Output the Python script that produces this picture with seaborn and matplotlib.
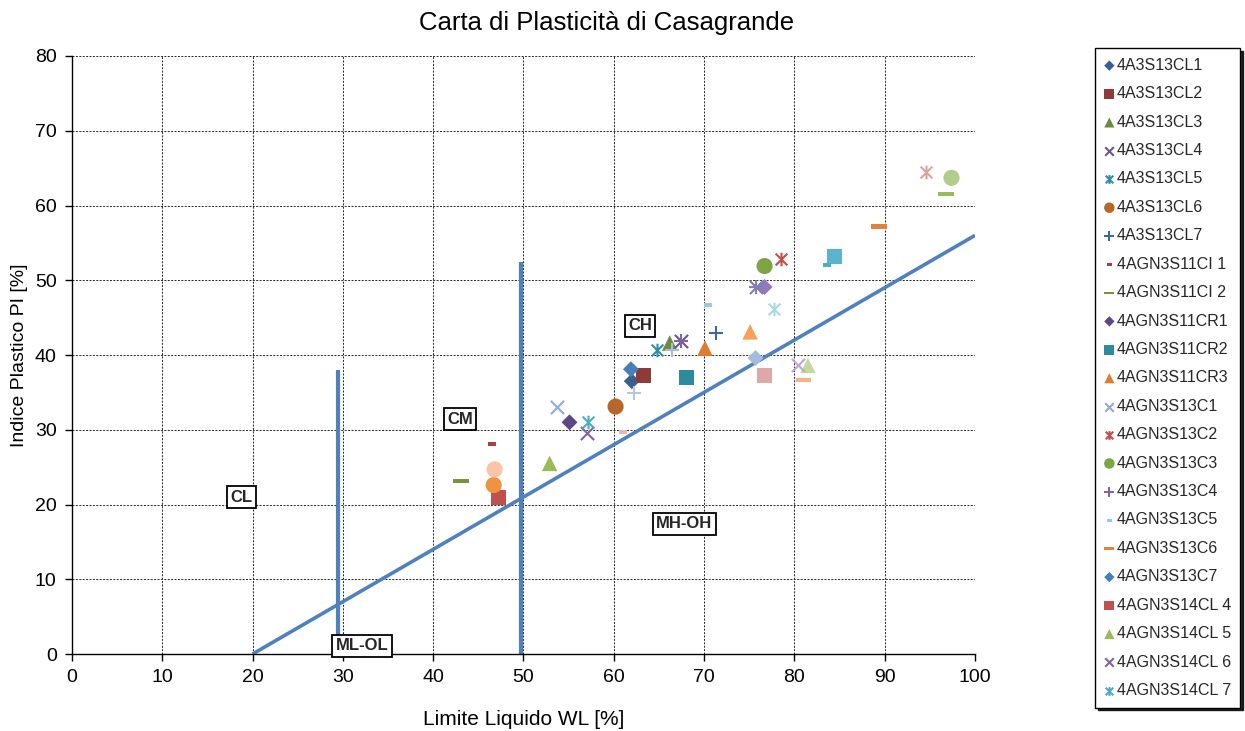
import matplotlib
matplotlib.use("Agg")
import matplotlib.pyplot as plt
import seaborn as sns
from matplotlib.path import Path

sns.set_theme(style="white")
plt.rcParams['font.family'] = ['Liberation Sans', 'DejaVu Sans']

# Samples shown in the legend (first 23 series)
legend_names = [
    "4A3S13CL1", "4A3S13CL2", "4A3S13CL3", "4A3S13CL4", "4A3S13CL5",
    "4A3S13CL6", "4A3S13CL7", "4AGN3S11CI 1", "4AGN3S11CI 2",
    "4AGN3S11CR1", "4AGN3S11CR2", "4AGN3S11CR3", "4AGN3S13C1",
    "4AGN3S13C2", "4AGN3S13C3", "4AGN3S13C4", "4AGN3S13C5",
    "4AGN3S13C6", "4AGN3S13C7", "4AGN3S14CL 4", "4AGN3S14CL 5",
    "4AGN3S14CL 6", "4AGN3S14CL 7",
]

# Liquid limit WL [%] and plasticity index PI [%], one sample per series
wl_values = [
    62.0, 63.3, 66.2, 67.4, 64.8, 60.2, 71.3, 46.5, 43.1, 55.1,
    68.1, 70.1, 53.7, 78.5, 76.7, 67.4, 70.4, 89.4, 61.9, 47.2,
    52.9, 57.0, 57.1, 46.7, 62.2, 61.0, 96.8, 76.7, 84.4, 75.1,
    75.8, 94.6, 97.4, 75.8, 83.6, 81.0, 75.7, 76.7, 81.5, 80.4,
    77.8, 46.8, 66.4,
]
pi_values = [
    36.5, 37.3, 41.6, 41.9, 40.7, 33.1, 42.9, 28.1, 23.1, 31.0,
    37.0, 40.9, 33.1, 52.8, 51.9, 41.9, 46.7, 57.2, 38.1, 21.0,
    25.5, 29.6, 31.1, 22.6, 34.9, 29.7, 61.5, 49.1, 53.2, 43.1,
    49.1, 64.5, 63.7, 49.1, 52.0, 36.7, 39.6, 37.2, 38.6, 38.7,
    46.2, 24.7, 40.7,
]
series_colors = [
    "#3A5F8E", "#8E3A38", "#6E8B3D", "#6A5590", "#2E8EA3", "#B8672A",
    "#3C6A9A", "#A8403E", "#77933C", "#5D4784", "#2F8A9F", "#E07B30",
    "#8FAAD6", "#C0504D", "#7DA445", "#7F64A2", "#93CDDD", "#E0823A",
    "#4A7EBB", "#C0504D", "#9BBB59", "#8064A2", "#4BACC6", "#F0923F",
    "#B4C7E4", "#E6B9B8", "#9BBB59", "#9279B8", "#5BB3CF", "#F8A058",
    "#7383B8", "#E0A0A0", "#B2CC8A", "#8A7AB8", "#4BACC6", "#FAB08A",
    "#A3BCDC", "#DDA8A8", "#C4D8A0", "#BBA9D0", "#A8D8E6", "#FAC4A8",
    "#A6BDE0",
]

# Casagrande A-line and the WL = 30 / WL = 50 boundaries
a_line_wl = [20, 100]
a_line_pi = [0, 56]
low_limit_wl = [29.5, 29.5]
low_limit_pi = [0, 38]
high_limit_wl = [49.7, 49.7]
high_limit_pi = [0, 52.5]

# Zone labels
zone_labels = ["CH", "CM", "CL", "MH-OH", "ML-OL"]
zone_wl = [62.9, 43.0, 18.8, 67.8, 32.1]
zone_pi = [43.9, 31.4, 21.0, 17.4, 1.1]

# Marker shapes cycling over the series
asterisk = Path([(-1, -1), (1, 1), (-1, 1), (1, -1), (0, -1.15), (0, 1.15)],
                [Path.MOVETO, Path.LINETO] * 3)
short_dash = Path([(-1, -0.5), (1, -0.5), (1, 0.5), (-1, 0.5), (-1, -0.5)],
                  [Path.MOVETO, Path.LINETO, Path.LINETO, Path.LINETO, Path.CLOSEPOLY])
long_dash = Path([(-1, -0.27), (1, -0.27), (1, 0.27), (-1, 0.27), (-1, -0.27)],
                 [Path.MOVETO, Path.LINETO, Path.LINETO, Path.LINETO, Path.CLOSEPOLY])
marker_cycle = [
    dict(marker="D", s=66, kind="fill"),
    dict(marker="s", s=117, kind="fill"),
    dict(marker="^", s=125, kind="fill"),
    dict(marker="x", s=90, kind="line"),
    dict(marker=asterisk, s=95, kind="path"),
    dict(marker="o", s=135, kind="fill"),
    dict(marker="+", s=100, kind="line"),
    dict(marker=short_dash, s=36, kind="fill"),
    dict(marker=long_dash, s=125, kind="fill"),
]

fig = plt.figure(figsize=(12.45, 7.31), dpi=100)
ax = fig.add_axes([0.0578, 0.1053, 0.7253, 0.8181])

line_color = "#4F81BD"
ax.plot(a_line_wl, a_line_pi, color=line_color, lw=2.6, zorder=2, solid_capstyle="butt")
ax.plot(low_limit_wl, low_limit_pi, color=line_color, lw=3.0, zorder=2, solid_capstyle="butt")
ax.plot(high_limit_wl, high_limit_pi, color=line_color, lw=3.0, zorder=2, solid_capstyle="butt")

handles = []
for i, (wl, pi, col) in enumerate(zip(wl_values, pi_values, series_colors)):
    spec = marker_cycle[i % len(marker_cycle)]
    kw = dict(x=[wl], y=[pi], ax=ax, marker=spec["marker"], s=spec["s"],
              color=col, zorder=3, legend=False)
    if spec["kind"] == "fill":
        kw.update(edgecolor="none", linewidth=0)
    elif spec["kind"] == "path":
        kw.update(edgecolor=col, linewidth=1.5)
    else:
        kw.update(linewidth=1.5)
    sns.scatterplot(**kw)
    if i < len(legend_names):
        coll = ax.collections[-1]
        coll.set_label(legend_names[i])
        handles.append(coll)

for txt, x, y in zip(zone_labels, zone_wl, zone_pi):
    ax.text(x, y, txt, ha="center", va="center", fontsize=12, fontweight="bold",
            zorder=4,
            bbox=dict(boxstyle="square,pad=0.2", fc="white", ec="black", lw=1.3))

ax.set_xlim(0, 100)
ax.set_ylim(0, 80)
ax.set_xticks(range(0, 101, 10))
ax.set_yticks(range(0, 81, 10))
ax.grid(True, color="#222222", linestyle=(0, (2, 1.5)), linewidth=0.7)
ax.set_axisbelow(True)
for side in ["top", "right"]:
    ax.spines[side].set_visible(False)
for side in ["left", "bottom"]:
    ax.spines[side].set_color("black")
    ax.spines[side].set_linewidth(1.0)
ax.tick_params(axis="both", which="major", bottom=True, left=True, direction="out",
               length=5, width=1, color="black", labelsize=14, labelcolor="black", pad=6)

ax.set_xlabel("Limite Liquido WL [%]", fontsize=15, labelpad=17, color="black")
ax.set_ylabel("Indice Plastico PI [%]", fontsize=14, labelpad=5, color="black")
fig.suptitle("Carta di Plasticità di Casagrande", x=0.487, y=0.985, fontsize=18.5, color="black")

leg = fig.legend(handles=handles, loc="upper left", bbox_to_anchor=(0.8795, 0.934),
                 frameon=True, fancybox=False, edgecolor="black", framealpha=1,
                 shadow={"color": "black", "alpha": 0.85}, fontsize=11.5,
                 markerscale=0.65, handlelength=0.6, handletextpad=0.15,
                 labelspacing=0.84, borderpad=0.6, borderaxespad=0)
leg.get_frame().set_linewidth(1.0)

fig.savefig("out.png", dpi=100)
